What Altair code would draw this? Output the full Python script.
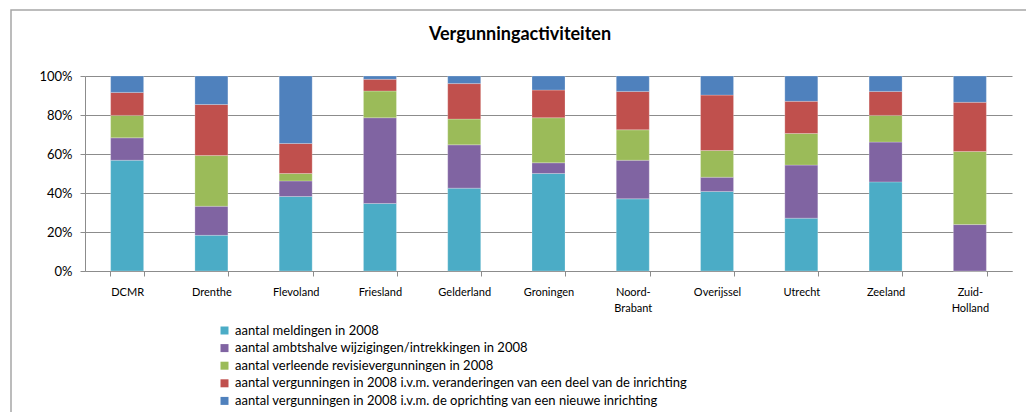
import altair as alt
import pandas as pd

categories = ["DCMR", "Drenthe", "Flevoland", "Friesland", "Gelderland", "Groningen",
              "Noord-Brabant", "Overijssel", "Utrecht", "Zeeland", "Zuid-Holland"]

series = [
    "aantal meldingen in 2008",
    "aantal ambtshalve  wijzigingen/intrekkingen in 2008",
    "aantal verleende revisievergunningen in 2008",
    "aantal vergunningen in 2008 i.v.m.  veranderingen van een deel van de inrichting",
    "aantal vergunningen in 2008 i.v.m.  de oprichting van een nieuwe inrichting",
]

# shares (percent) per category
meldingen   = [56.8, 18.3, 38.2, 34.6, 42.5, 50.0, 37.0, 40.8, 27.1, 45.7, 0.0]
ambtshalve  = [11.5, 14.9, 8.0, 44.0, 22.2, 5.5, 19.8, 7.3, 27.2, 20.4, 23.8]
revisie     = [11.5, 26.0, 3.8, 13.7, 13.2, 23.1, 15.6, 13.7, 16.2, 13.7, 37.5]
verandering = [11.8, 26.2, 15.4, 6.0, 18.2, 14.2, 19.7, 28.4, 16.5, 12.3, 25.2]
oprichting  = [8.4, 14.6, 34.6, 1.7, 3.9, 7.2, 7.9, 9.8, 13.0, 7.9, 13.5]

title_text = ["Vergunningactiviteiten"]

colors = ["#4BACC6", "#8064A2", "#9BBB59", "#C0504D", "#4F81BD"]

all_vals = [meldingen, ambtshalve, revisie, verandering, oprichting]
rows = []
for si, (s, vals) in enumerate(zip(series, all_vals)):
    for c, v in zip(categories, vals):
        rows.append({"cat": c, "series": s, "value": v, "order": si})
df = pd.DataFrame(rows)

FONT = "Lato"
GRID = "#8c8c8c"

bars = alt.Chart(df).mark_bar(size=33, stroke="white", strokeWidth=0.4, strokeOpacity=0.6).encode(
    x=alt.X("cat:N", sort=categories, title=None,
            scale=alt.Scale(paddingInner=0.6, paddingOuter=0.3),
            axis=alt.Axis(labelAngle=0, labelFontSize=11, labelFont=FONT, labelColor="#000000",
                          tickBand="extent", tickSize=5, tickColor=GRID, domainColor=GRID,
                          labelPadding=10, labelLineHeight=16, labelBaseline="top",
                          labelExpr="split(datum.label, '-').length > 1 ? [split(datum.label, '-')[0] + '-', split(datum.label, '-')[1]] : datum.label")),
    y=alt.Y("value:Q", stack="normalize", title=None,
            scale=alt.Scale(domain=[0, 1]),
            axis=alt.Axis(format=".0%", values=[0, 0.2, 0.4, 0.6, 0.8, 1.0], labelFontSize=13,
                          labelFont=FONT, labelColor="#000000", tickSize=5, tickColor=GRID,
                          domainColor=GRID, gridColor=GRID, gridWidth=1, labelPadding=8)),
    color=alt.Color("series:N", sort=series,
                    scale=alt.Scale(domain=series, range=colors),
                    legend=alt.Legend(title=None, orient="none", legendX=133, legendY=248,
                                      symbolType="square", symbolSize=64, symbolStrokeWidth=0,
                                      labelFontSize=13, labelFont=FONT, labelColor="#000000",
                                      rowPadding=3.6, labelLimit=800, symbolOffset=0)),
    order=alt.Order("order:Q", sort="ascending"),
)

frame = alt.Chart(pd.DataFrame({"a": [0]})).mark_rect(fill=None, stroke="#a6a6a6", strokeWidth=1.5).encode(
    x=alt.value(-74), x2=alt.value(944), y=alt.value(-66), y2=alt.value(345)
)

title = alt.Chart(pd.DataFrame({"t": title_text})).mark_text(
    font=FONT, fontSize=18, fontWeight="bold", color="#000000", align="center", baseline="middle"
).encode(text="t:N", x=alt.value(435), y=alt.value(-41))

chart = alt.layer(frame, bars, title).properties(
    width=927, height=195,
    padding={"left": 77, "top": 68, "right": 14, "bottom": 142},
    autosize=alt.AutoSizeParams(type="none"),
).configure_view(stroke=None).configure_axis(domainWidth=1)

chart.save("out.html", embed_options={"renderer": "svg", "actions": False})
